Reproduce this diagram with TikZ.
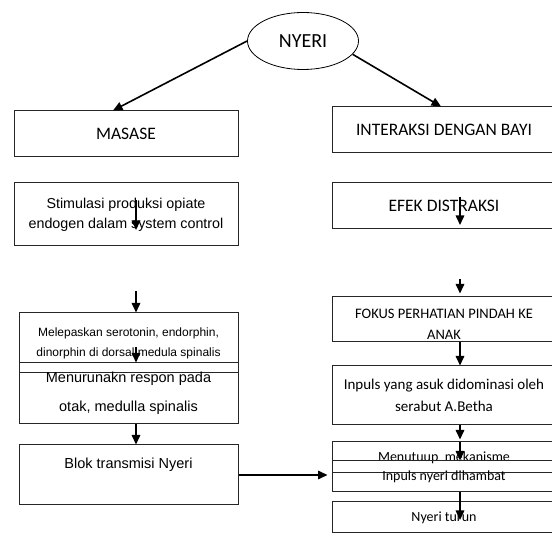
\documentclass[tikz,border=0pt]{standalone}
\usepackage{fontspec}
\setmainfont{Liberation Sans}
\newfontfamily\fcal{Carlito}
\usetikzlibrary{shapes.geometric,arrows.meta}

\begin{document}
\begin{tikzpicture}[x=1pt,y=-1pt,
  box/.style={shape=rectangle, draw=black!85, line width=1pt, minimum width=224pt, inner sep=0pt, align=center},
  arr/.style={-{Triangle[width=8.5pt,length=9.5pt]}, line width=1.6pt}]
\useasboundingbox (0,0) rectangle (552,534);
\node[shape=ellipse, draw, line width=0.8pt, minimum width=111pt, minimum height=57pt, font=\fcal\fontsize{20}{22}\selectfont] (N0) at (303,41) {NYERI};
% left column
\node[box, minimum height=46pt, font=\fcal\fontsize{17.5}{18}\selectfont] (L1) at (126,134) {MASASE};
\node[box, minimum height=63pt, font=\fontsize{14.3}{20}\selectfont] (L2) at (126,214.5) {Stimulasi produksi opiate\\endogen dalam system control};
\node[box, minimum width=219pt, minimum height=60pt, font=\fontsize{12}{20}\selectfont] (L3) at (128.5,343) {Melepaskan serotonin, endorphin,\\dinorphin di dorsal medula spinalis};
\node[box, minimum width=219pt, minimum height=61pt, font=\fontsize{14.5}{29}\selectfont] (L4) at (128.5,393.5) {Menurunakn respon pada\\otak, medulla spinalis};
\node[box, minimum width=219pt, text height=24pt, text depth=36pt, font=\fontsize{14.5}{18}\selectfont] (L5) at (128.5,475) {Blok transmisi Nyeri};
% right column
\node[box, minimum height=46pt, font=\fcal\fontsize{17.5}{18}\selectfont] (R1) at (444,130) {INTERAKSI DENGAN BAYI};
\node[box, minimum height=46pt, font=\fcal\fontsize{17.5}{18}\selectfont] (R2) at (444,206) {EFEK DISTRAKSI};
\node[box, text height=43pt, text depth=2pt, font=\fcal\fontsize{14.5}{21}\selectfont] (R3) at (444,319.5) {FOKUS PERHATIAN PINDAH KE\\ANAK};
\node[box, minimum height=59pt, font=\fcal\fontsize{15}{22}\selectfont] (R4) at (444,395.5) {Inpuls yang asuk didominasi oleh\\serabut A.Betha};
\node[box, minimum height=31pt, font=\fcal\fontsize{14}{16}\selectfont] (R5) at (444,457.5) {Menutuup\ \ mekanisme};
\node[box, minimum height=31pt, font=\fcal\fontsize{14}{16}\selectfont] (R6) at (444,476.5) {Inpuls nyeri dihambat};
\node[box, minimum height=31pt, font=\fcal\fontsize{14}{16}\selectfont] (R7) at (444,517.5) {Nyeri turun};
% arrows
\draw[arr] (N0.west) -- ([xshift=-13pt]L1.north);
\draw[arr] (N0.-15) -- ([xshift=-3pt]R1.north);
\draw[arr] ([xshift=10pt,yshift=14.5pt]L2.center) -- ([xshift=10pt,yshift=-15.5pt]L2.center);
\draw[arr] ([xshift=7.5pt,yshift=21pt]L3.north) -- ([xshift=7.5pt]L3.north);
\draw[arr] ([xshift=7.5pt,yshift=-4pt]L3.center) -- ([xshift=7.5pt]L4.north);
\draw[arr] ([xshift=7.5pt]L4.south) -- ([xshift=7.5pt]L5.north);
\draw[arr, shorten >=4pt] (L5.east) -- (L5.east -| R6.west);
\draw[arr] ([xshift=16pt,yshift=9pt]R2.center) -- ([xshift=16pt,yshift=-19pt]R2.center);
\draw[arr] ([xshift=16pt,yshift=17pt]R3.north) -- ([xshift=16pt,yshift=3pt]R3.north);
\draw[arr] ([xshift=16pt]R3.south) -- ([xshift=16pt]R4.north);
\draw[arr] ([xshift=16pt]R4.south) -- ([xshift=16pt,yshift=2pt]R5.north);
\draw[arr] ([xshift=16pt,yshift=-1pt]R5.north) -- ([xshift=16pt]R6.north);
\draw[arr] ([xshift=16pt]R6.south) -- ([xshift=16pt,yshift=-2.5pt]R7.center);
\end{tikzpicture}
\end{document}
